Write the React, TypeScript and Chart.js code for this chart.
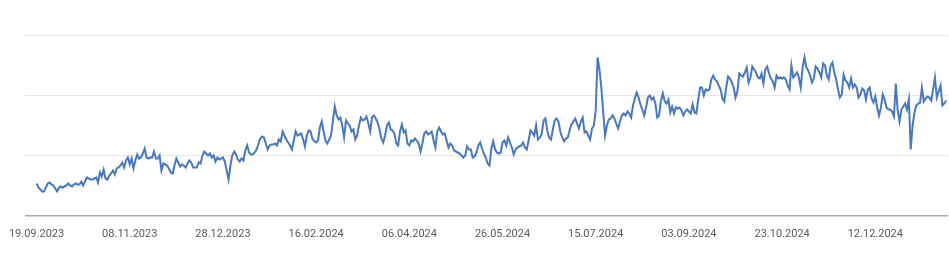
import React, { useEffect, useRef } from "react";
import { Chart, registerables } from "chart.js";

Chart.register(...registerables);

// Daily series starting 19.09.2023 (one value per day)
const dailyValues: number[] = [
  32, 28, 26, 24, 24, 28, 32, 33, 31, 30,
  27, 24, 28, 29, 28, 29, 30, 32, 30, 29,
  31, 32, 31, 31, 34, 30, 34, 38, 37, 36,
  36, 37, 38, 33, 43, 39, 46, 37, 36, 40,
  42, 45, 41, 47, 48, 50, 53, 48, 55, 58,
  51, 57, 47, 55, 61, 57, 58, 62, 67, 58,
  57, 58, 58, 64, 57, 57, 60, 45, 52, 51,
  50, 47, 43, 42, 50, 57, 53, 49, 51, 50,
  48, 52, 55, 53, 48, 48, 48, 53, 52, 60,
  64, 62, 60, 62, 58, 60, 54, 58, 56, 57,
  58, 54, 45, 36, 50, 60, 64, 61, 56, 54,
  57, 55, 65, 70, 63, 61, 61, 63, 66, 71,
  77, 79, 78, 72, 66, 70, 71, 71, 72, 70,
  76, 74, 84, 80, 76, 73, 70, 66, 75, 84,
  80, 81, 82, 76, 69, 80, 85, 84, 77, 74,
  73, 75, 88, 94, 84, 75, 72, 76, 80, 95,
  109, 100, 96, 98, 90, 78, 95, 92, 90, 84,
  86, 76, 80, 90, 98, 95, 96, 99, 92, 84,
  98, 100, 97, 93, 86, 77, 73, 80, 90, 93,
  86, 85, 82, 72, 70, 84, 91, 83, 85, 72,
  70, 75, 74, 77, 75, 72, 64, 72, 82, 84,
  81, 82, 84, 75, 68, 84, 88, 84, 81, 82,
  75, 68, 72, 70, 65, 64, 63, 62, 60, 58,
  60, 69, 66, 66, 58, 59, 63, 70, 73, 67,
  62, 58, 52, 50, 67, 74, 66, 63, 62, 63,
  73, 75, 70, 78, 73, 68, 61, 66, 68, 69,
  70, 73, 68, 66, 75, 85, 83, 80, 90, 76,
  78, 81, 95, 97, 85, 78, 76, 86, 95, 97,
  94, 84, 78, 74, 77, 78, 85, 91, 94, 97,
  92, 87, 94, 98, 83, 84, 80, 76, 87, 90,
  105, 158, 146, 128, 104, 80, 90, 96, 97, 100,
  97, 92, 87, 94, 100, 102, 100, 104, 102, 98,
  110, 117, 123, 118, 111, 106, 100, 108, 118, 120,
  116, 118, 112, 98, 100, 115, 122, 114, 112, 116,
  103, 109, 102, 108, 107, 108, 105, 100, 104, 106,
  104, 102, 111, 103, 102, 116, 128, 128, 120, 126,
  125, 126, 136, 140, 136, 134, 130, 126, 117, 114,
  128, 139, 137, 133, 128, 118, 124, 142, 140, 139,
  143, 148, 133, 138, 149, 146, 143, 138, 137, 142,
  132, 146, 149, 142, 137, 134, 128, 140, 137, 138,
  137, 138, 136, 130, 126, 150, 138, 140, 143, 138,
  128, 148, 158, 148, 145, 140, 133, 137, 149, 147,
  143, 138, 152, 150, 140, 136, 150, 153, 143, 136,
  126, 118, 121, 141, 135, 133, 128, 137, 128, 131,
  128, 118, 121, 127, 125, 116, 126, 128, 117, 113,
  119, 108, 100, 108, 121, 116, 108, 106, 106, 104,
  99, 132, 105, 94, 106, 109, 112, 106, 116, 66,
  90, 103, 110, 112, 113, 128, 114, 117, 119, 118,
  115, 126, 138, 118, 124, 130, 110, 112, 115,
];

// Tick labels and their day offsets from the first day
const xTickLabels: string[] = [
  "19.09.2023",
  "08.11.2023",
  "28.12.2023",
  "16.02.2024",
  "06.04.2024",
  "26.05.2024",
  "15.07.2024",
  "03.09.2024",
  "23.10.2024",
  "12.12.2024",
];
const xTickDays: number[] = [0, 50, 100, 150, 200, 250, 300, 350, 400, 450];

const yGridValues: number[] = [0, 60, 120, 180];

export default function App() {
  const canvasRef = useRef<HTMLCanvasElement | null>(null);

  useEffect(() => {
    document.body.style.margin = "0";
    const canvas = canvasRef.current;
    if (!canvas) return;
    const chart = new Chart(canvas, {
      type: "line",
      data: {
        datasets: [
          {
            data: dailyValues.map((v, i) => ({ x: i, y: v })),
            borderColor: "#4779c2",
            borderWidth: 2,
            pointRadius: 0,
            tension: 0,
            fill: false,
          },
        ],
      },
      options: {
        animation: false,
        responsive: false,
        parsing: false,
        layout: { padding: { top: 35.5, right: 1, left: 0, bottom: 0 } },
        plugins: {
          legend: { display: false },
          tooltip: { enabled: false },
        },
        scales: {
          x: {
            type: "linear",
            min: -6.2,
            max: 489,
            grid: { display: false, drawTicks: false },
            border: { display: false },
            afterBuildTicks: (scale: any) => {
              scale.ticks = xTickDays.map((v) => ({ value: v }));
            },
            afterFit: (scale: any) => {
              scale.height = 40.5;
              scale.paddingLeft = 0;
              scale.paddingRight = 0;
            },
            ticks: {
              autoSkip: false,
              maxRotation: 0,
              minRotation: 0,
              padding: 12,
              color: "#5a5a5a",
              font: { family: "Roboto", size: 11 },
              callback: (value: any) => {
                const idx = xTickDays.indexOf(Number(value));
                return idx >= 0 ? xTickLabels[idx] : "";
              },
            },
          },
          y: {
            min: 0,
            max: 180,
            afterBuildTicks: (scale: any) => {
              scale.ticks = yGridValues.map((v) => ({ value: v }));
            },
            afterFit: (scale: any) => {
              scale.width = 25;
              scale.paddingTop = 0;
              scale.paddingBottom = 0;
            },
            border: { display: false },
            grid: {
              drawTicks: false,
              color: (ctx: any) =>
                ctx.tick && ctx.tick.value === 0 ? "#aaaaaa" : "#e6e6e6",
              lineWidth: (ctx: any) =>
                ctx.tick && ctx.tick.value === 0 ? 1.5 : 1,
            },
            ticks: { display: false },
          },
        },
      },
    });
    return () => chart.destroy();
  }, []);

  return (
    <div style={{ width: 949, height: 256, background: "#ffffff" }}>
      <canvas ref={canvasRef} width={949} height={256} style={{ display: "block" }} />
    </div>
  );
}
